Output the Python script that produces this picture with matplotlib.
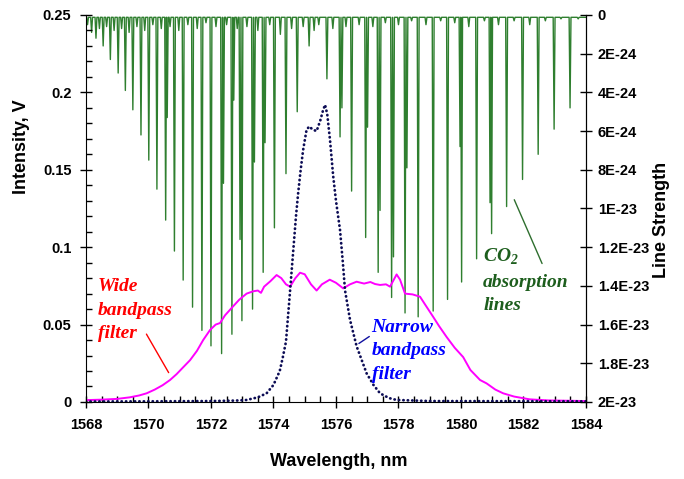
import numpy as np
import matplotlib.pyplot as plt
from matplotlib.ticker import MultipleLocator

plt.rcParams['font.family'] = ['Liberation Sans', 'DejaVu Sans']

# CO2 absorption lines: wavelength (nm) and line strength (units of 1E-24)
main_wl = [1568.32, 1568.55, 1568.78, 1569.03, 1569.26, 1569.50, 1569.76, 1570.01,
           1570.27, 1570.55, 1570.83, 1571.11, 1571.41, 1571.71, 1572.00, 1572.34,
           1572.67, 1572.99, 1573.33, 1573.67, 1574.03, 1574.40, 1574.76, 1575.14,
           1575.71, 1576.13, 1576.50, 1576.95, 1577.35, 1577.78, 1578.21, 1578.63,
           1579.11, 1579.57, 1580.02, 1580.50, 1580.98, 1581.46, 1581.97, 1582.47,
           1582.98, 1583.49]
main_s = [1.2, 1.6, 2.3, 3.0, 3.9, 4.9, 6.2, 7.5,
          9.0, 10.6, 12.2, 13.7, 15.1, 16.3, 17.1, 17.5,
          16.5, 15.8, 15.2, 13.3, 11.0, 8.2, 5.0, 1.6,
          3.3, 6.3, 9.1, 11.5, 13.3, 14.6, 15.4, 15.6,
          15.3, 14.7, 13.8, 12.6, 11.3, 9.9, 8.5, 7.2,
          5.9, 4.8]

# weaker neighbouring lines
second_wl = [1570.60, 1572.40, 1572.73, 1572.93, 1573.39, 1573.73, 1576.19,
             1577.01, 1577.41, 1577.84, 1578.27, 1579.97, 1580.93]
second_s = [5.3, 8.7, 4.4, 11.6, 7.6, 6.6, 4.8,
            5.8, 10.1, 12.5, 7.9, 6.8, 9.7]

# small dips along the top
weak_wl = [1568.05, 1568.18, 1568.43, 1568.66, 1568.90, 1569.14, 1569.38, 1569.63,
           1569.88, 1570.14, 1570.41, 1570.69, 1570.97, 1571.26, 1571.56, 1571.84,
           1572.16, 1572.50, 1572.84, 1573.15, 1573.50, 1573.88, 1574.22, 1574.58,
           1574.95, 1575.30, 1575.45, 1575.90, 1576.32, 1576.74, 1577.18, 1577.58,
           1578.00, 1578.42, 1578.88, 1579.35, 1579.80, 1580.25, 1580.75, 1581.20,
           1581.70, 1582.20, 1582.70, 1583.20, 1583.75]
weak_s = [0.5, 0.9, 0.7, 0.6, 0.8, 0.7, 0.9, 0.6,
          0.8, 0.5, 0.7, 0.6, 0.8, 0.5, 0.7, 0.4,
          0.6, 0.5, 0.7, 0.6, 0.8, 0.5, 1.0, 0.7,
          0.6, 0.8, 0.5, 0.7, 0.6, 0.5, 0.6, 0.4,
          0.5, 0.3, 0.5, 0.3, 0.4, 0.6, 0.3, 0.5,
          0.3, 0.5, 0.3, 0.2, 0.2]

# wide bandpass filter (V)
wide_wl = [1568.0, 1568.5, 1569.0, 1569.4, 1569.7, 1569.94, 1570.2, 1570.45, 1570.69,
           1570.9, 1571.1, 1571.33, 1571.55, 1571.75, 1571.97, 1572.15, 1572.29, 1572.45,
           1572.7, 1572.9, 1573.14, 1573.35, 1573.5, 1573.6, 1573.7, 1573.9, 1574.1,
           1574.25, 1574.4, 1574.53, 1574.7, 1574.85, 1575.0, 1575.2, 1575.38, 1575.55,
           1575.8, 1576.0, 1576.23, 1576.45, 1576.66, 1576.9, 1577.1, 1577.25, 1577.41,
           1577.6, 1577.73, 1577.85, 1577.94, 1578.05, 1578.21, 1578.45, 1578.69, 1578.85,
           1579.11, 1579.3, 1579.54, 1579.8, 1580.07, 1580.3, 1580.61, 1580.82, 1581.1,
           1581.35, 1581.7, 1582.2, 1582.8, 1583.4, 1584.0]
wide_v = [0.0012, 0.0015, 0.0020, 0.0030, 0.0042, 0.0056, 0.0080, 0.0108, 0.0142,
          0.0180, 0.0222, 0.0270, 0.0330, 0.0400, 0.0465, 0.0500, 0.0510, 0.0560,
          0.0616, 0.0660, 0.0700, 0.0715, 0.0720, 0.0705, 0.0745, 0.0780, 0.0820,
          0.0800, 0.0760, 0.0745, 0.0800, 0.0835, 0.0825, 0.0760, 0.0720, 0.0760,
          0.0790, 0.0770, 0.0734, 0.0760, 0.0777, 0.0765, 0.0775, 0.0762, 0.0756,
          0.0760, 0.0745, 0.0790, 0.0824, 0.0790, 0.0700, 0.0695, 0.0680, 0.0630,
          0.0550, 0.0490, 0.0420, 0.0350, 0.0290, 0.0207, 0.0142, 0.0120, 0.0080,
          0.0056, 0.0035, 0.0017, 0.0010, 0.0008, 0.0006]

# narrow bandpass filter (V)
narrow_wl = [1568.0, 1570.0, 1572.0, 1572.8, 1573.14, 1573.5, 1573.78, 1574.0, 1574.2,
             1574.3, 1574.4, 1574.5, 1574.61, 1574.72, 1574.79, 1574.87, 1574.95, 1575.06,
             1575.15, 1575.25, 1575.38, 1575.5, 1575.58, 1575.65, 1575.72, 1575.81,
             1575.91, 1576.0, 1576.13, 1576.22, 1576.29, 1576.45, 1576.66, 1576.98,
             1577.2, 1577.41, 1577.7, 1577.94, 1579.0, 1584.0]
narrow_v = [0.0003, 0.0004, 0.0006, 0.0009, 0.0013, 0.0030, 0.0056, 0.0110, 0.0200,
            0.0290, 0.0390, 0.0640, 0.0920, 0.1200, 0.1350, 0.1500, 0.1630, 0.1760,
            0.1780, 0.1760, 0.1750, 0.1820, 0.1880, 0.1920, 0.1860, 0.1690,
            0.1460, 0.1300, 0.1110, 0.0900, 0.0720, 0.0530, 0.0360, 0.0185,
            0.0110, 0.0056, 0.0025, 0.0013, 0.0006, 0.0004]

x_ticks = [1568, 1570, 1572, 1574, 1576, 1578, 1580, 1582, 1584]
left_ticks = [0, 0.05, 0.1, 0.15, 0.2, 0.25]
left_labels = ['0', '0.05', '0.1', '0.15', '0.2', '0.25']
right_ticks = [0, 2, 4, 6, 8, 10, 12, 14, 16, 18, 20]
right_labels = ['0', '2E-24', '4E-24', '6E-24', '8E-24', '1E-23', '1.2E-23',
                '1.4E-23', '1.6E-23', '1.8E-23', '2E-23']

# build the stick spectrum as narrow spikes hanging from the top
lines = sorted(zip(main_wl + second_wl + weak_wl, main_s + second_s + weak_s))
hw = 0.03
base = 0.12
co2_x, co2_y = [1568.0], [base]
for wl, s in lines:
    co2_x += [wl - hw, wl, wl + hw]
    co2_y += [base, s, base]
co2_x.append(1584.0)
co2_y.append(base)
co2_y = np.array(co2_y) * 1e-24

fig = plt.figure(figsize=(6.84, 4.79), dpi=100)
ax1 = fig.add_axes([0.1257, 0.1608, 0.7310, 0.8079])
ax2 = ax1.twinx()
ax1.set_zorder(ax2.get_zorder() + 1)
ax1.patch.set_visible(False)

ax2.plot(co2_x, co2_y, color='#2f7f2f', lw=1.0)
ax2.set_ylim(20e-24, 0)

ax1.plot(wide_wl, wide_v, color='#ff00ff', lw=1.4)
ax1.plot(narrow_wl, narrow_v, color='#0c0c55', lw=2.0, linestyle=(0, (0.1, 1.5)),
         dash_capstyle='round')

ax1.set_xlim(1568, 1584)
ax1.set_ylim(0, 0.25)
ax1.set_xticks(x_ticks)
ax1.set_xticklabels([str(t) for t in x_ticks])
ax1.set_yticks(left_ticks)
ax1.set_yticklabels(left_labels)
ax1.xaxis.set_minor_locator(MultipleLocator(0.5))
ax1.yaxis.set_minor_locator(MultipleLocator(0.01))
ax2.set_yticks(np.array(right_ticks) * 1e-24)
ax2.set_yticklabels(right_labels)

for ax in (ax1, ax2):
    ax.spines['top'].set_visible(False)
ax2.spines['left'].set_visible(False)
ax2.spines['bottom'].set_visible(False)

ax1.tick_params(which='major', direction='inout', length=9, width=1,
                labelsize=10.5)
ax1.tick_params(which='minor', direction='in', length=4, width=1)
ax1.tick_params(axis='y', pad=6)
ax1.tick_params(axis='x', pad=7)
ax2.tick_params(axis='y', direction='inout', length=9, width=1, labelsize=10.5, pad=4)
for lab in ax1.get_xticklabels() + ax1.get_yticklabels() + ax2.get_yticklabels():
    lab.set_fontweight('bold')

ax1.set_xlabel('Wavelength, nm', fontsize=13, fontweight='bold')
ax1.xaxis.set_label_coords(0.506, -0.132)
ax1.set_ylabel('Intensity, V', fontsize=13, fontweight='bold')
ax1.yaxis.set_label_coords(-0.112, 0.659)
ax2.set_ylabel('Line Strength', fontsize=13, fontweight='bold')
ax2.yaxis.set_label_coords(1.134, 0.47)

# multi-line labels: y is the baseline of the last line
serif = dict(family=['Liberation Serif', 'DejaVu Serif'], style='italic',
             fontweight='bold', fontsize=14, va='baseline', ha='left', linespacing=1.5)
ax1.text(1568.38, 0.0413, 'Wide\nbandpass\nfilter', color='#ff0000', **serif)
ax1.text(1577.14, 0.0149, 'Narrow\nbandpass\nfilter', color='#0000ff', **serif)
ax1.text(1580.71, 0.0594, 'CO$_\\mathregular{2}$\nabsorption\nlines', color='#1d5e1d', **serif)

ax1.annotate('', xy=(1570.69, 0.0174), xytext=(1569.89, 0.0454),
             arrowprops=dict(arrowstyle='-', color='#ff0000', lw=1))
ax1.annotate('', xy=(1576.66, 0.0368), xytext=(1577.14, 0.0433),
             arrowprops=dict(arrowstyle='-', color='#1010a0', lw=1))
ax1.annotate('', xy=(1582.63, 0.0878), xytext=(1581.67, 0.1323),
             arrowprops=dict(arrowstyle='-', color='#2e6e2e', lw=1))

fig.savefig('out.png', dpi=100)
